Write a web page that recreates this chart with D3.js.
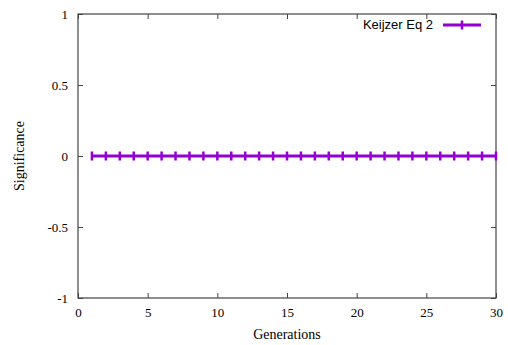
<!DOCTYPE html>
<html>
<head>
<meta charset="utf-8">
<script src="https://cdn.jsdelivr.net/npm/d3@7"></script>
<style>
  body { margin: 0; background: #fff; }
  svg text { fill: #000; }
</style>
</head>
<body>
<div id="chart"></div>
<script>
// data
const generations = [1,2,3,4,5,6,7,8,9,10,11,12,13,14,15,16,17,18,19,20,21,22,23,24,25,26,27,28,29,30];
const significance = [0,0,0,0,0,0,0,0,0,0,0,0,0,0,0,0,0,0,0,0,0,0,0,0,0,0,0,0,0,0];
const seriesName = "Keijzer Eq 2";
const xTicks = [0, 5, 10, 15, 20, 25, 30];
const yTicks = [-1, -0.5, 0, 0.5, 1];

const W = 508, H = 345;
const margin = { top: 14, right: 12, bottom: 47, left: 78 };
const width = W - margin.left - margin.right;
const height = H - margin.top - margin.bottom;
const color = "#9400d3";

const svg = d3.select("#chart").append("svg")
    .attr("width", W)
    .attr("height", H);

const g = svg.append("g")
    .attr("transform", "translate(" + margin.left + "," + margin.top + ")");

const x = d3.scaleLinear().domain([0, 30]).range([0, width]);
const y = d3.scaleLinear().domain([-1, 1]).range([height, 0]);

// inward ticks on all four sides, like gnuplot
const serif = "'Liberation Serif', 'DejaVu Serif', serif";
const plain = d => String(d);

const xAxis = g.append("g")
    .attr("transform", "translate(0," + height + ")")
    .call(d3.axisBottom(x).tickValues(xTicks).tickSizeInner(-5).tickSizeOuter(0).tickPadding(10).tickFormat(plain));
const xTop = g.append("g")
    .call(d3.axisTop(x).tickValues(xTicks).tickSizeInner(-5).tickSizeOuter(0).tickFormat(""));
const yAxis = g.append("g")
    .call(d3.axisLeft(y).tickValues(yTicks).tickSizeInner(-5).tickSizeOuter(0).tickPadding(10).tickFormat(plain));
const yRight = g.append("g")
    .attr("transform", "translate(" + width + ",0)")
    .call(d3.axisRight(y).tickValues(yTicks).tickSizeInner(-5).tickSizeOuter(0).tickFormat(""));

[xAxis, xTop, yAxis, yRight].forEach(a => {
    a.attr("font-family", serif).attr("font-size", 13);
    a.select(".domain").remove();
    a.selectAll(".tick line").attr("stroke", "#444");
});

// frame
g.append("rect")
    .attr("width", width)
    .attr("height", height)
    .attr("fill", "none")
    .attr("stroke", "#444")
    .attr("stroke-width", 1.2);

// axis titles
svg.append("text")
    .attr("x", margin.left + width / 2)
    .attr("y", 339)
    .attr("text-anchor", "middle")
    .style("font-family", serif)
    .style("font-size", "14px")
    .text("Generations");

svg.append("text")
    .attr("transform", "translate(24," + (margin.top + height / 2) + ") rotate(-90)")
    .attr("text-anchor", "middle")
    .style("font-family", serif)
    .style("font-size", "14px")
    .text("Significance");

// series
const info = generations.map((gen, i) => ({ gen: gen, val: significance[i] }));

const line = d3.line()
    .x(d => x(d.gen))
    .y(d => y(d.val));

g.append("path")
    .datum(info)
    .attr("d", line)
    .attr("fill", "none")
    .attr("stroke", color)
    .attr("stroke-width", 3);

g.selectAll(".pt")
    .data(info)
    .enter().append("line")
    .attr("class", "pt")
    .attr("x1", d => x(d.gen))
    .attr("x2", d => x(d.gen))
    .attr("y1", d => y(d.val) - 4.5)
    .attr("y2", d => y(d.val) + 4.5)
    .attr("stroke", color)
    .attr("stroke-width", 2.5);

// legend
const legend = svg.append("g");
legend.append("text")
    .attr("x", 433)
    .attr("y", 29)
    .attr("text-anchor", "end")
    .style("font-family", "'Liberation Sans', Arial, sans-serif")
    .style("font-size", "13px")
    .text(seriesName);
legend.append("line")
    .attr("x1", 443).attr("x2", 481)
    .attr("y1", 25).attr("y2", 25)
    .attr("stroke", color)
    .attr("stroke-width", 3);
legend.append("line")
    .attr("x1", 462).attr("x2", 462)
    .attr("y1", 20.5).attr("y2", 29.5)
    .attr("stroke", color)
    .attr("stroke-width", 2.5);
</script>
</body>
</html>
